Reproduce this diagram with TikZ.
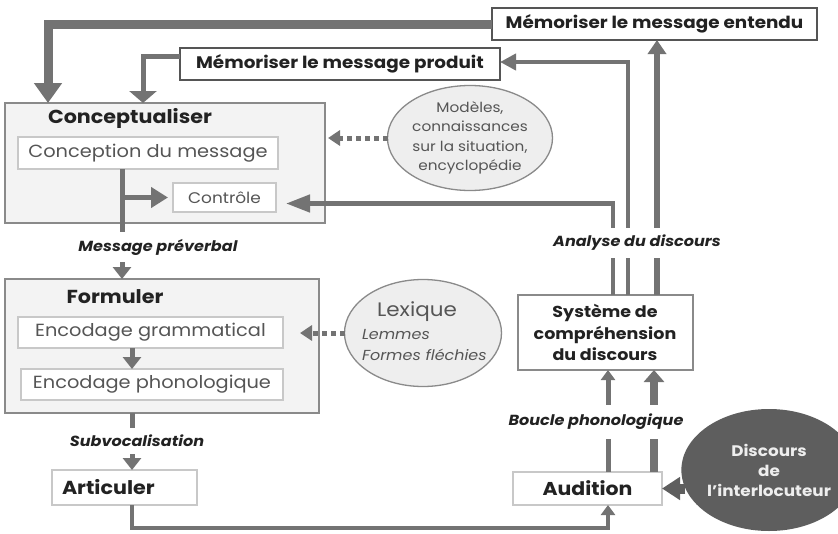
\documentclass[tikz,border=0pt]{standalone}
\usepackage{fontspec}
\setmainfont{Poppins}[FakeStretch=1.1]
\usetikzlibrary{arrows.meta,shapes.geometric}
\definecolor{ln}{HTML}{737373}
\definecolor{dk}{HTML}{222222}
\definecolor{tx}{HTML}{555555}
\definecolor{obox}{HTML}{8A8A8A}
\definecolor{ibox}{HTML}{C8C8C8}
\definecolor{ofill}{HTML}{F3F3F3}
\definecolor{efill}{HTML}{EEEEEE}
\definecolor{disc}{HTML}{5E5E5E}
\begin{document}
\begin{tikzpicture}[x=1pt,y=-1pt,
  every node/.style={inner sep=0pt,outer sep=0pt},
  membox/.style={draw=tx,line width=2.5pt,fill=white,text=dk,font=\fontsize{16.7}{19}\selectfont\bfseries},
  outerbox/.style={draw=obox,line width=1.5pt,fill=ofill},
  innerbox/.style={draw=ibox,line width=1.2pt,fill=white,text=tx,font=\fontsize{17.6}{20}\selectfont},
  title/.style={text=dk,font=\fontsize{18.8}{21}\selectfont\bfseries},
  ell/.style={ellipse,draw=obox,line width=1.3pt,fill=efill,text=tx},
  lab/.style={fill=white,inner xsep=3pt,inner ysep=7pt,text=dk,font=\fontsize{14.6}{17}\selectfont\bfseries\itshape},
  conn/.style={draw=ln},
]
\useasboundingbox (0,0) rectangle (838,533);

% boxes
\node[membox,minimum width=325pt,minimum height=32pt] (entendu) at (654.5,24) {Mémoriser le message entendu};
\node[membox,minimum width=320pt,minimum height=32pt] (produit) at (340,64) {Mémoriser le message produit};

\node[outerbox,minimum width=320pt,minimum height=120pt] (concept) at (165,163) {};
\node[title] (concepttitle) at (130,118) {Conceptualiser};
\node[innerbox,minimum width=260pt,minimum height=32pt] (conception) at (148,153) {Conception du message};
\node[innerbox,minimum width=103pt,minimum height=29pt,font=\fontsize{15.4}{18}\selectfont] (controle) at (224.5,197.5) {Contrôle};

\node[ell,minimum width=165pt,minimum height=105pt,align=center,font=\fontsize{13.9}{19.5}\selectfont] (modeles) at (470,138) {Modèles,\\connaissances\\sur la situation,\\encyclopédie};

\node[outerbox,minimum width=314pt,minimum height=134pt] (formuler) at (162,346) {};
\node[title] (formtitle) at (115,297) {Formuler};
\node[innerbox,minimum width=265pt,minimum height=31pt] (gram) at (150.5,332.5) {Encodage grammatical};
\node[innerbox,minimum width=262pt,minimum height=31pt] (phono) at (152,384.5) {Encodage phonologique};

\node[ell,minimum width=157pt,minimum height=107pt] (lexique) at (423,333) {};
\node[text=tx,font=\fontsize{19.5}{22}\selectfont] (lextitle) at (417,312) {Lexique};
\node[text=tx,font=\fontsize{14.5}{17}\selectfont\itshape,anchor=west] (lemmes) at (362,335) {Lemmes};
\node[text=tx,font=\fontsize{14.5}{17}\selectfont\itshape,anchor=west] (formes) at (362,355) {Formes fléchies};

\node[draw=ibox,line width=1.2pt,fill=white,text=dk,font=\fontsize{18.8}{21}\selectfont\bfseries,
      minimum height=35pt,text width=125pt,inner xsep=10pt,align=left] (articuler) at (124.5,487.5) {Articuler};

\node[draw=obox,line width=2pt,fill=white,text=dk,font=\fontsize{15.9}{21.5}\selectfont\bfseries,
      minimum width=175pt,minimum height=75pt,align=center] (systeme) at (605,332.5) {Système de\\compréhension\\du discours};
\node[draw=ibox,line width=1.2pt,fill=white,text=dk,font=\fontsize{18.6}{21}\selectfont\bfseries,
      minimum width=149pt,minimum height=33pt] (audition) at (587.5,488.5) {Audition};

\node[ellipse,fill=disc,minimum width=134pt,minimum height=122pt,text=efill,align=center,
      font=\fontsize{15.3}{20}\selectfont\bfseries] (discours) at (769,470) {Discours\\de\\l'interlocuteur};

% coordinates
\coordinate (k1) at ([xshift=43]concept.north west);
\coordinate (k2) at ([xshift=138]concept.north west);
\coordinate (s1) at ([xshift=8]systeme.north);
\coordinate (s2) at ([xshift=23]systeme.north);
\coordinate (s3) at ([xshift=52]systeme.north);
\coordinate (m1) at ([xshift=-26]conception.south);
\coordinate (g1) at ([xshift=-18.5]gram.south);
\coordinate (f1) at ([xshift=-30]formuler.south);
\coordinate (a1) at ([xshift=7.5]articuler.south);
\coordinate (a2) at ([xshift=20.5]audition.south);
\coordinate (bot) at (0,528);
\coordinate (u1) at ([xshift=20.5]audition.north);
\coordinate (u2) at ([xshift=66.5]audition.north);
\coordinate (d1) at ([xshift=4]discours.west);
\coordinate (c1) at ([xshift=3]concept.east);
\coordinate (l1) at ([xshift=17]gram.east);

% connectors
\draw[conn,line width=9pt,-{Triangle[width=27pt,length=20pt]}] (entendu.west) -| (k1);
\draw[conn,line width=5pt,-{Triangle[width=27pt,length=12pt]}] ([yshift=8]produit.west) -| (k2);
\draw[conn,line width=4.5pt,-{Triangle[width=17pt,length=24pt]}] (s1) |- ([xshift=10,yshift=-6]controle.east);
\draw[conn,line width=4.5pt,-{Triangle[width=16pt,length=16pt]}] (s2) |- ([yshift=2]produit.east);
\draw[conn,line width=6.5pt,-{Triangle[width=18pt,length=14pt]}] (s3) -- (s3 |- entendu.south);

\draw[conn,line width=5pt,-{Triangle[width=18pt,length=12pt]}] (m1) -- (m1 |- formuler.north);
\draw[conn,line width=5pt,-{Triangle[width=20pt,length=17pt]},shorten >=5pt] (m1 |- controle.west) -- (controle.west);
\draw[conn,line width=5pt,-{Triangle[width=18pt,length=12pt]}] (g1) -- (g1 |- phono.north);
\draw[conn,line width=5pt,-{Triangle[width=18pt,length=12pt]}] (f1) -- (f1 |- articuler.north);
\draw[conn,line width=4pt,-{Triangle[width=14pt,length=10pt]}] (a1) |- (a2 |- bot) -- (a2);
\draw[conn,line width=5pt,-{Triangle[width=14pt,length=10pt]}] (u1) -- (u1 |- systeme.south);
\draw[conn,line width=8pt,-{Triangle[width=20pt,length=12pt]}] (u2) -- (u2 |- systeme.south);
\draw[draw=disc,line width=10pt,-{Triangle[width=22pt,length=18pt]}] (d1 |- audition.east) -- (audition.east);

\draw[conn,line width=5pt,dash pattern=on 5pt off 4pt,-{Triangle[width=15pt,length=12pt]}] (modeles.west) -- (c1 |- modeles.west);
\draw[conn,line width=5pt,dash pattern=on 5pt off 4pt,-{Triangle[width=15pt,length=12pt]}] (lexique.west) -- (l1 |- lexique.west);

% labels (over the lines)
\node[lab] (msgpre) at (158,247) {Message préverbal};
\node[lab] (subvoc) at (137,441) {Subvocalisation};
\node[lab] (analyse) at (637,243) {Analyse du discours};
\node[lab,inner ysep=9pt] (boucle) at (596,422) {Boucle phonologique};
\end{tikzpicture}
\end{document}
